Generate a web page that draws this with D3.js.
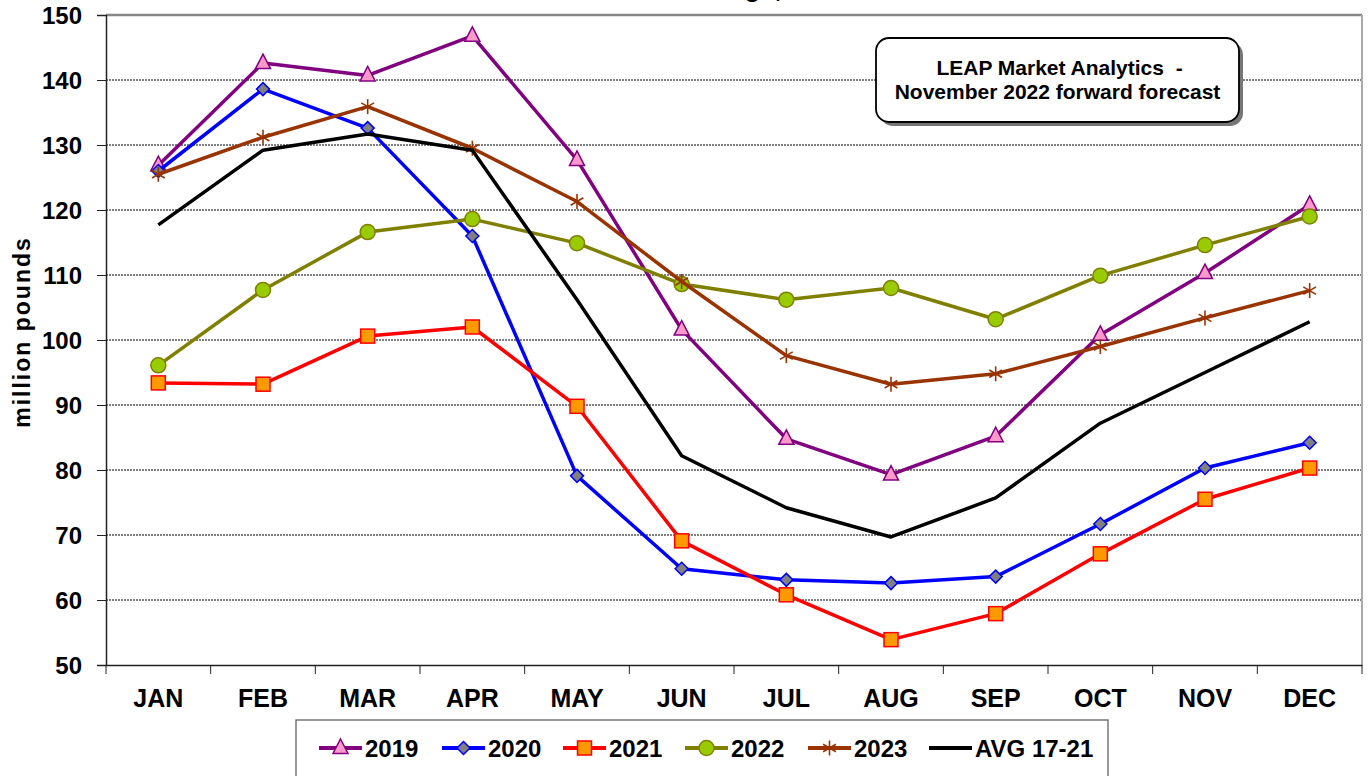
<!DOCTYPE html>
<html><head><meta charset="utf-8">
<script src="https://cdn.jsdelivr.net/npm/d3@7"></script>
<style>body{margin:0;background:#fff;}svg{display:block;font-family:Arial,"Liberation Sans",sans-serif;}</style>
</head><body><svg id="c" width="1368" height="776"></svg>
<script>
const months = ["JAN","FEB","MAR","APR","MAY","JUN","JUL","AUG","SEP","OCT","NOV","DEC"];
const yTicks = [50,60,70,80,90,100,110,120,130,140,150];
const s2019 = [126.9,142.6,140.7,146.8,127.7,101.6,84.8,79.3,85.2,100.8,110.3,120.8];
const s2020 = [126.0,138.6,132.6,116.0,79.1,64.8,63.1,62.6,63.6,71.7,80.3,84.2];
const s2021 = [93.4,93.2,100.6,102.0,89.8,69.1,60.8,53.9,57.9,67.1,75.5,80.3];
const s2022 = [96.1,107.7,116.6,118.6,114.9,108.6,106.2,108.0,103.2,109.9,114.6,119.0];
const s2023 = [125.5,131.2,135.9,129.5,121.3,109.0,97.6,93.2,94.8,99.0,103.4,107.6];
const avg1721 = [117.7,129.2,131.7,129.2,106.2,82.2,74.2,69.7,75.7,87.2,95.0,102.8];
const seriesNames = ["2019","2020","2021","2022","2023","AVG 17-21"];

const series = [
  {name:seriesNames[0], values:s2019, stroke:"#800080", fill:"#FF99CC", mstroke:"#800080", marker:"triangle"},
  {name:seriesNames[1], values:s2020, stroke:"#0000FF", fill:"#808080", mstroke:"#0000FF", marker:"diamond"},
  {name:seriesNames[2], values:s2021, stroke:"#FF0000", fill:"#FF9900", mstroke:"#FF0000", marker:"square"},
  {name:seriesNames[3], values:s2022, stroke:"#808000", fill:"#99CC00", mstroke:"#808000", marker:"circle"},
  {name:seriesNames[4], values:s2023, stroke:"#993300", fill:"none", mstroke:"#993300", marker:"star"},
  {name:seriesNames[5], values:avg1721, stroke:"#000000", fill:"none", mstroke:"#000", marker:"none"}
];

const svg = d3.select("#c");
const L=106, R=1362, T=15, B=665;
const x = d3.scaleBand().domain(months).range([L,R]).padding(0);
const y = d3.scaleLinear().domain([50,150]).range([B,T]);
const FONT = "Arial,'Liberation Sans',sans-serif";

// title (cut off at top in the reference)
svg.append("text").attr("x",782).attr("y",-3).attr("text-anchor","end")
  .attr("font-size",26).attr("font-weight","bold").text("Storage,");

// gridlines
svg.append("g").selectAll("line").data(yTicks.filter(d=>d>50 && d<150)).join("line")
  .attr("x1",L).attr("x2",R).attr("y1",d=>y(d)).attr("y2",d=>y(d))
  .attr("stroke","#000").attr("stroke-width",1).attr("stroke-dasharray","2,1");

// border top/right
svg.append("line").attr("x1",L).attr("x2",R).attr("y1",T).attr("y2",T).attr("stroke","#888").attr("stroke-width",2.5);
svg.append("line").attr("x1",R).attr("x2",R).attr("y1",T).attr("y2",B).attr("stroke","#aaa").attr("stroke-width",2);

// y axis
const yAxis = svg.append("g").attr("transform",`translate(${L},0)`)
  .call(d3.axisLeft(y).tickValues(yTicks).tickSize(9).tickPadding(15));
yAxis.select(".domain").attr("stroke","#222").attr("stroke-width",1.5);
yAxis.selectAll(".tick line").attr("stroke","#222");
yAxis.selectAll("text").attr("font-size",24).attr("font-weight","bold").attr("fill","#000")
  .attr("font-family",FONT).attr("dy","0.36em");

// x axis
const xAxis = svg.append("g").attr("transform",`translate(0,${B})`)
  .call(d3.axisBottom(x).tickSize(0).tickPadding(24));
xAxis.select(".domain").attr("stroke","#222").attr("stroke-width",1.5);
xAxis.selectAll("text").attr("font-size",25).attr("font-weight","bold").attr("fill","#000")
  .attr("font-family",FONT);
svg.append("g").selectAll("line").data(months.map(m=>x(m)).concat([R])).join("line")
  .attr("x1",d=>d).attr("x2",d=>d).attr("y1",B).attr("y2",B+9).attr("stroke","#222").attr("stroke-width",1);

// y title
svg.append("text").attr("transform","translate(30,332) rotate(-90)").attr("text-anchor","middle")
  .attr("font-size",23).attr("font-weight","bold").attr("letter-spacing",2).text("million pounds");

const cx = m => x(m)+x.bandwidth()/2;
const line = d3.line().x((d,i)=>cx(months[i])).y(d=>y(d));

function drawMarker(g, type, px, py, s){
  if(type==="triangle"){
    g.append("path").attr("d",`M${px},${py-9}L${px+7.5},${py+5.5}L${px-7.5},${py+5.5}Z`)
      .attr("fill",s.fill).attr("stroke",s.mstroke).attr("stroke-width",1.5);
  } else if(type==="diamond"){
    g.append("path").attr("d",`M${px},${py-6.5}L${px+6.5},${py}L${px},${py+6.5}L${px-6.5},${py}Z`)
      .attr("fill",s.fill).attr("stroke",s.mstroke).attr("stroke-width",1.5);
  } else if(type==="square"){
    g.append("rect").attr("x",px-7).attr("y",py-7).attr("width",14).attr("height",14)
      .attr("fill",s.fill).attr("stroke",s.mstroke).attr("stroke-width",1.5);
  } else if(type==="circle"){
    g.append("circle").attr("cx",px).attr("cy",py).attr("r",7.5)
      .attr("fill",s.fill).attr("stroke",s.mstroke).attr("stroke-width",1.5);
  } else if(type==="star"){
    const r=7.5;
    [[0,-r,0,r],[-r*0.85,-r*0.5,r*0.85,r*0.5],[-r*0.85,r*0.5,r*0.85,-r*0.5]].forEach(a=>{
      g.append("line").attr("x1",px+a[0]).attr("y1",py+a[1]).attr("x2",px+a[2]).attr("y2",py+a[3])
        .attr("stroke",s.mstroke).attr("stroke-width",1.6);
    });
  }
}

series.forEach(s=>{
  const g = svg.append("g");
  g.append("path").datum(s.values).attr("d",line).attr("fill","none")
    .attr("stroke",s.stroke).attr("stroke-width",3.5).attr("stroke-linejoin","round");
  s.values.forEach((v,i)=>drawMarker(g,s.marker,cx(months[i]),y(v),s));
});

// annotation box
const bx=876, by=38, bw=363, bh=84;
svg.append("rect").attr("x",bx+4).attr("y",by+4).attr("width",bw).attr("height",bh).attr("rx",13).attr("fill","#777");
svg.append("rect").attr("x",bx).attr("y",by).attr("width",bw).attr("height",bh).attr("rx",13)
  .attr("fill","#fff").attr("stroke","#000").attr("stroke-width",1.8);
svg.append("text").attr("x",bx+bw/2+2).attr("y",75).attr("text-anchor","middle").attr("font-size",21)
  .attr("font-weight","bold").attr("xml:space","preserve").text("LEAP Market Analytics  -");
svg.append("text").attr("x",bx+bw/2).attr("y",99).attr("text-anchor","middle").attr("font-size",21)
  .attr("font-weight","bold").text("November 2022 forward forecast");

// legend
const lg = svg.append("g");
lg.append("rect").attr("x",296).attr("y",720).attr("width",812).attr("height",70)
  .attr("fill","#fff").attr("stroke","#555").attr("stroke-width",1.2);
const lx = [319,442,563,685,808,929];
series.forEach((s,i)=>{
  const x0=lx[i], ly=748;
  lg.append("line").attr("x1",x0).attr("x2",x0+43).attr("y1",ly).attr("y2",ly)
    .attr("stroke",s.stroke).attr("stroke-width",4);
  drawMarker(lg,s.marker,x0+21.5,ly,s);
  lg.append("text").attr("x",x0+46).attr("y",ly+9).attr("font-size",24).attr("font-weight","bold").text(s.name);
});
</script></body></html>
